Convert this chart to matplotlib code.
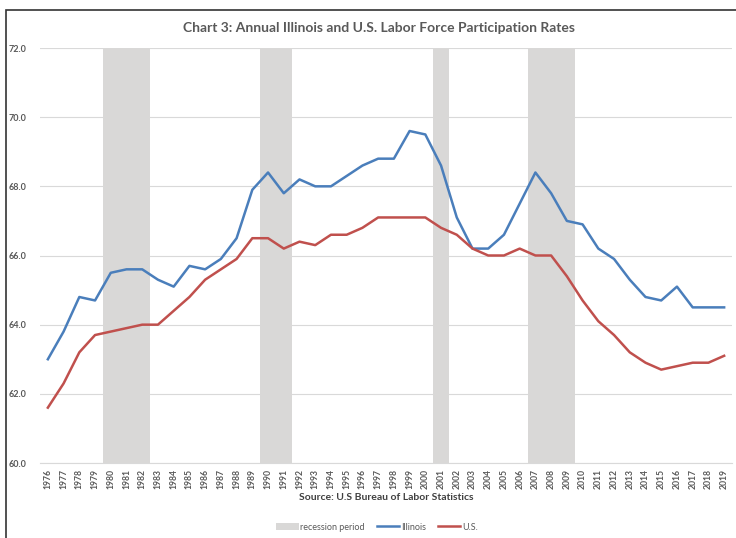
import numpy as np
import matplotlib
matplotlib.use("Agg")
import matplotlib.pyplot as plt
from matplotlib.patches import Patch, Rectangle
from matplotlib.lines import Line2D

plt.rcParams['font.family'] = ['Lato', 'DejaVu Sans']

years = list(range(1976, 2020))
illinois = [63.0, 63.8, 64.8, 64.7, 65.5, 65.6, 65.6, 65.3, 65.1, 65.7,
            65.6, 65.9, 66.5, 67.9, 68.4, 67.8, 68.2, 68.0, 68.0, 68.3,
            68.6, 68.8, 68.8, 69.6, 69.5, 68.6, 67.1, 66.2, 66.2, 66.6,
            67.5, 68.4, 67.8, 67.0, 66.9, 66.2, 65.9, 65.3, 64.8, 64.7,
            65.1, 64.5, 64.5, 64.5]
us = [61.6, 62.3, 63.2, 63.7, 63.8, 63.9, 64.0, 64.0, 64.4, 64.8,
      65.3, 65.6, 65.9, 66.5, 66.5, 66.2, 66.4, 66.3, 66.6, 66.6,
      66.8, 67.1, 67.1, 67.1, 67.1, 66.8, 66.6, 66.2, 66.0, 66.0,
      66.2, 66.0, 66.0, 65.4, 64.7, 64.1, 63.7, 63.2, 62.9, 62.7,
      62.8, 62.9, 62.9, 63.1]
recession_years = [1980, 1981, 1982, 1990, 1991, 2001, 2007, 2008, 2009]

blue = '#4a7ebb'
red = '#c0504d'
grey = '#d9d8d7'
text_col = '#595959'

fig = plt.figure(figsize=(7.36, 5.38), dpi=100)
ax = fig.add_axes([40 / 736, 1 - 463 / 538, 692 / 736, 415 / 538])

x = np.arange(len(years))
rec = np.array([1 if y in recession_years else 0 for y in years])
ax.bar(x, rec * 72, width=1.0, color=grey, zorder=1)
ax.plot(x, illinois, color=blue, lw=1.8, zorder=3)
ax.plot(x, us, color=red, lw=1.8, zorder=3)

ax.set_xlim(-0.5, len(years) - 0.5)
ax.set_ylim(60, 72)
ax.set_yticks(np.arange(60, 72.1, 2))
ax.set_yticklabels(['%.1f' % v for v in np.arange(60, 72.1, 2)],
                   fontsize=6.5, fontweight='bold', color=text_col)
ax.set_xticks(x)
ax.set_xticklabels([str(y) for y in years], rotation=90, fontsize=6.2,
                   fontweight='bold', color=text_col)
ax.tick_params(axis='both', length=0, pad=4)
ax.tick_params(axis='y', pad=10)
ax.grid(axis='y', color='#d9d9d9', lw=0.8, zorder=0)
ax.set_axisbelow(True)
for s in ['top', 'right', 'left']:
    ax.spines[s].set_visible(False)
ax.spines['bottom'].set_color('#d9d9d9')
ax.spines['bottom'].set_linewidth(0.8)

fig.text(379 / 736, 1 - 28 / 538, 'Chart 3: Annual Illinois and U.S. Labor Force Participation Rates',
         ha='center', va='center', fontsize=10, fontweight='bold', color=text_col)
fig.text(386 / 736, 1 - 498 / 538, 'Source: U.S Bureau of Labor Statistics',
         ha='center', va='center', fontsize=7.5, fontweight='bold', color='#404040')

handles = [Patch(facecolor=grey, edgecolor='none'),
           Line2D([0], [0], color=blue, lw=1.8),
           Line2D([0], [0], color=red, lw=1.8)]
leg = fig.legend(handles, ['recession period', 'Illinois', 'U.S.'],
                 loc='center', bbox_to_anchor=(377 / 736, 1 - 527 / 538),
                 ncol=3, frameon=False, fontsize=6.5, handlelength=2.5,
                 handletextpad=0.2, columnspacing=1.3)
for t in leg.get_texts():
    t.set_color(text_col)

fig.patches.append(Rectangle((6 / 736, -0.1), 1.2, 1.1 - 10 / 538,
                             transform=fig.transFigure, fill=False,
                             edgecolor='#333333', lw=1.2))

fig.savefig('out.png', dpi=100)
